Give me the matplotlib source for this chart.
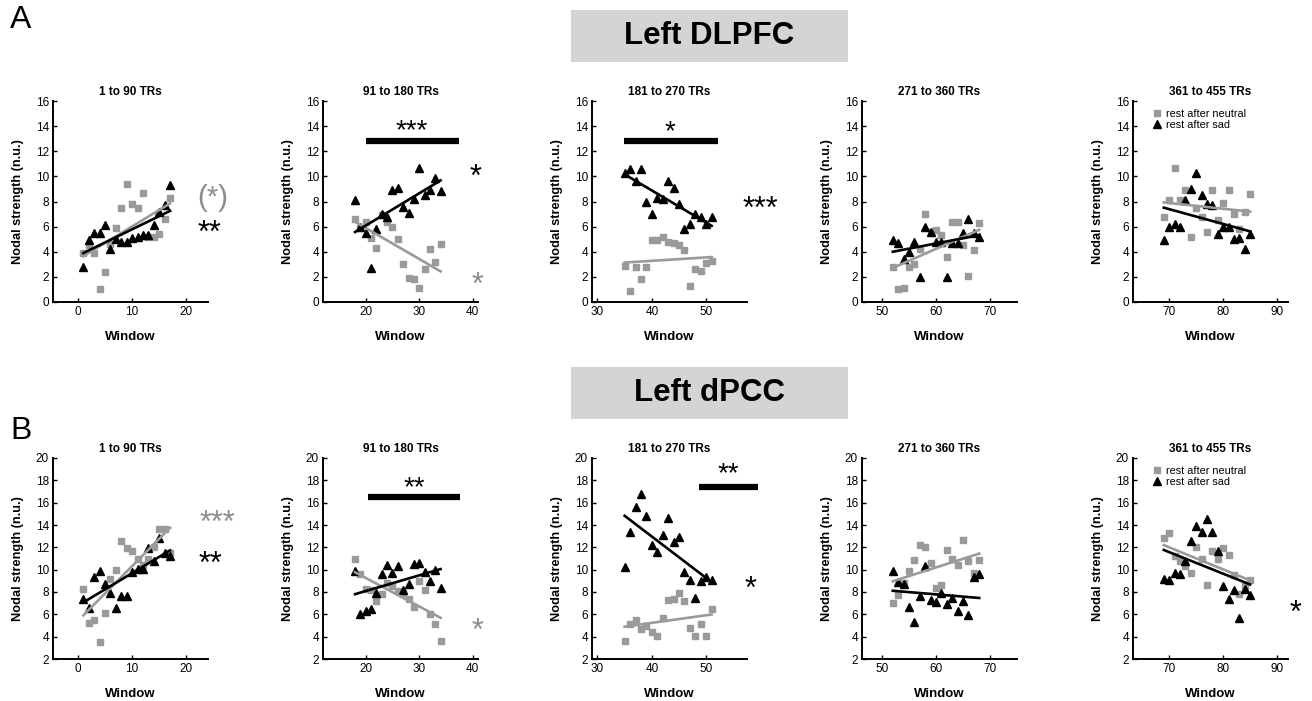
import numpy as np
import matplotlib
matplotlib.use("Agg")
import matplotlib.pyplot as plt
from matplotlib.patches import Rectangle
import matplotlib.transforms as mtrans

plt.rcParams['font.family'] = ['Liberation Sans', 'DejaVu Sans']

# ---------------- data ----------------
titles = ["1 to 90 TRs", "91 to 180 TRs", "181 to 270 TRs", "271 to 360 TRs", "361 to 455 TRs"]
win_starts = [1, 18, 35, 52, 69]
n_win = 17
xlims = [(-4.6, 24), (12, 41), (29, 57.5), (46.3, 75), (63.3, 92)]
xticks = [[0, 10, 20], [20, 30, 40], [30, 40, 50], [50, 60, 70], [70, 80, 90]]

# Left DLPFC (A)
neutral_A = [
    [3.9, 4.5, 3.9, 1.0, 2.4, 4.6, 5.9, 7.5, 9.4, 7.8, 7.5, 8.7, 5.2, 5.2, 5.4, 6.6, 8.3],
    [6.6, 5.9, 6.4, 5.1, 4.3, 6.9, 6.4, 6.0, 5.0, 3.0, 1.9, 1.8, 1.1, 2.6, 4.2, 3.2, 4.6],
    [2.9, 0.9, 2.8, 1.8, 2.8, 4.9, 4.9, 5.2, 4.8, 4.7, 4.5, 4.1, 1.3, 2.6, 2.5, 3.1, 3.3],
    [2.8, 1.0, 1.1, 2.8, 3.0, 4.2, 7.0, 5.6, 5.7, 5.3, 3.6, 6.4, 6.4, 4.5, 2.1, 4.1, 6.3],
    [6.8, 8.1, 10.7, 8.1, 8.9, 5.2, 7.5, 6.8, 5.6, 8.9, 6.5, 7.9, 8.9, 7.0, 5.8, 7.2, 8.6],
]
sad_A = [
    [2.8, 4.9, 5.5, 5.5, 6.1, 4.2, 5.0, 4.8, 4.8, 5.1, 5.2, 5.3, 5.3, 6.1, 7.2, 7.7, 9.3],
    [8.1, 6.0, 5.5, 2.7, 5.8, 7.0, 6.8, 8.9, 9.1, 7.6, 7.1, 8.2, 10.7, 8.5, 8.9, 9.9, 8.8],
    [10.3, 10.6, 9.6, 10.6, 8.0, 7.0, 8.3, 8.2, 9.6, 9.1, 7.8, 5.8, 6.2, 7.0, 6.8, 6.2, 6.8],
    [4.9, 4.7, 3.4, 4.0, 4.8, 2.0, 6.0, 5.6, 4.8, 4.8, 2.0, 4.7, 4.7, 5.5, 6.6, 5.5, 5.2],
    [4.9, 6.0, 6.2, 6.0, 8.1, 9.0, 10.3, 8.5, 7.8, 7.7, 5.4, 6.0, 6.0, 5.0, 5.1, 4.2, 5.4],
]
# Left dPCC (B)
neutral_B = [
    [8.3, 5.2, 5.5, 3.5, 6.1, 9.2, 10.0, 12.6, 11.9, 11.7, 11.0, 10.4, 11.0, 12.0, 13.6, 13.6, 11.5],
    [11.0, 9.6, 8.3, 8.2, 7.2, 7.8, 8.8, 8.5, 8.1, 7.9, 7.4, 6.7, 9.0, 8.2, 6.0, 5.1, 3.6],
    [3.6, 5.1, 5.5, 4.7, 5.0, 4.4, 4.1, 5.7, 7.3, 7.4, 7.9, 7.2, 4.8, 4.1, 5.1, 4.1, 6.5],
    [7.0, 7.7, 8.8, 9.9, 10.9, 12.2, 12.0, 10.6, 8.4, 8.6, 11.8, 11.0, 10.4, 12.7, 10.8, 9.7, 10.9],
    [12.8, 13.3, 11.2, 10.8, 10.3, 9.7, 12.0, 11.0, 8.6, 11.7, 11.0, 11.9, 11.3, 9.5, 7.8, 8.5, 9.1],
]
sad_B = [
    [7.4, 6.6, 9.3, 9.9, 8.7, 7.9, 6.6, 7.6, 7.6, 9.8, 10.1, 10.1, 11.9, 10.8, 12.8, 11.5, 11.2],
    [9.9, 6.0, 6.3, 6.5, 7.9, 9.6, 10.4, 9.7, 10.3, 8.2, 8.7, 10.5, 10.6, 9.8, 9.0, 10.0, 8.4],
    [10.2, 13.4, 15.6, 16.8, 14.8, 12.2, 11.6, 13.1, 14.6, 12.5, 12.9, 9.8, 9.1, 7.5, 9.0, 9.3, 9.1],
    [9.9, 8.9, 8.7, 6.7, 5.3, 7.6, 10.3, 7.3, 7.1, 7.9, 6.9, 7.5, 6.3, 7.2, 5.9, 9.3, 9.6],
    [9.2, 9.1, 9.7, 9.6, 10.8, 12.6, 13.9, 13.4, 14.5, 13.4, 11.7, 8.5, 7.4, 8.2, 5.7, 8.3, 7.7],
]

# significance bars: (row, col, x0, x1, y, label, label_x, label_y)
sig_bars = [
    (0, 1, 20.0, 37.4, 12.8, "***", 28.6, 14.1),
    (0, 2, 34.8, 52.1, 12.8, "*", 43.3, 14.0),
    (1, 1, 20.4, 37.6, 16.5, "**", 29.0, 17.8),
    (1, 2, 48.7, 59.6, 17.4, "**", 54.1, 19.1),
]
# side stars: (row, col, text, x, y, color)
side_marks = [
    (0, 0, "**", 24.2, 5.9, "black"),
    (0, 1, "*", 40.6, 10.4, "black"),
    (0, 1, "*", 41.0, 1.75, "#8c8c8c"),
    (0, 2, "***", 60.0, 7.8, "black"),
    (1, 0, "***", 25.7, 14.7, "#8c8c8c"),
    (1, 0, "**", 24.4, 11.0, "black"),
    (1, 1, "*", 40.9, 5.0, "#8c8c8c"),
    (1, 2, "*", 58.1, 8.8, "black"),
    (1, 4, "*", 93.4, 6.6, "black"),
]

GRAY = "#9a9a9a"

fig = plt.figure(figsize=(13.12, 7.01), dpi=100)
W, H = 1312, 701
col_left = [53, 323, 592, 862, 1133]
ax_w = 155
row_top = [101, 458]
ax_h = 201
ylims = [(0, 16), (2, 20)]
yticks = [list(range(0, 17, 2)), list(range(2, 21, 2))]

axes = {}
for r in range(2):
    neutral = neutral_A if r == 0 else neutral_B
    sad = sad_A if r == 0 else sad_B
    for c in range(5):
        ax = fig.add_axes([col_left[c] / W, 1 - (row_top[r] + ax_h) / H, ax_w / W, ax_h / H])
        axes[(r, c)] = ax
        x = np.arange(win_starts[c], win_starts[c] + n_win)
        yn = np.array(neutral[c])
        ys = np.array(sad[c])
        ax.plot(x, yn, 's', color=GRAY, ms=3.8, mec=GRAY, zorder=2, label="rest after neutral")
        ax.plot(x, ys, '^', color='black', ms=5.5, zorder=3, label="rest after sad")
        pn = np.polyfit(x, yn, 1)
        ps = np.polyfit(x, ys, 1)
        xe = np.array([x[0], x[-1]])
        ax.plot(xe, np.polyval(pn, xe), '-', color=GRAY, lw=1.9, zorder=4)
        ax.plot(xe, np.polyval(ps, xe), '-', color='black', lw=1.9, zorder=5)
        ax.set_xlim(*xlims[c])
        ax.set_ylim(*ylims[r])
        ax.set_xticks(xticks[c])
        ax.set_yticks(yticks[r])
        for s in ['top', 'right']:
            ax.spines[s].set_visible(False)
        for s in ['left', 'bottom']:
            ax.spines[s].set_linewidth(1.4)
        ax.tick_params(direction='in', length=3, width=1, labelsize=8.5, pad=3)
        ax.set_title(titles[c], fontsize=8.5, fontweight='bold', pad=4)
        ax.set_ylabel("Nodal strength (n.u.)", fontsize=9.2, fontweight='bold', labelpad=8)
        ax.set_xlabel("Window", fontsize=9.5, fontweight='bold', labelpad=9)
        if c == 4:
            ax.legend(loc='upper left', bbox_to_anchor=(0.08, 1.0), frameon=False,
                      fontsize=7.8, handlelength=0.8, handletextpad=0.4, labelspacing=0.1,
                      borderaxespad=0.3)

def star_text(ax, x, y, s, color, fs):
    tr = mtrans.offset_copy(ax.transData, fig=fig, x=0, y=-0.47 * fs, units='points')
    ax.text(x, y, s, transform=tr, ha='center', va='baseline', fontsize=fs,
            color=color, clip_on=False)

for (r, c, x0, x1, y, lab, lx, ly) in sig_bars:
    ax = axes[(r, c)]
    ax.plot([x0, x1], [y, y], '-', color='black', lw=4.5, solid_capstyle='butt', clip_on=False)
    star_text(ax, lx, ly, lab, 'black', 20)

for (r, c, s, x, y, col) in side_marks:
    star_text(axes[(r, c)], x, y, s, col, 22)

# "(*)" in panel A1
axA1 = axes[(0, 0)]
axA1.text(24.8, 8.3, "(*)", ha='center', va='center', fontsize=21, color='#8c8c8c', clip_on=False)

# headers
for (y0, label) in [(10, "Left DLPFC"), (367, "Left dPCC")]:
    fig.patches.append(Rectangle((571 / W, 1 - (y0 + 52) / H), 277 / W, 52 / H,
                                 transform=fig.transFigure, facecolor='#d4d4d4',
                                 edgecolor='none', zorder=0))
    fig.text((571 + 277 / 2) / W, 1 - (y0 + 26) / H, label, ha='center', va='center',
             fontsize=22.5, fontweight='bold')

fig.text(10 / W, 1 - 20 / H, "A", fontsize=23, ha='left', va='center')
fig.text(10 / W, 1 - 431 / H, "B", fontsize=23, ha='left', va='center')

fig.savefig("out.png", dpi=100)
